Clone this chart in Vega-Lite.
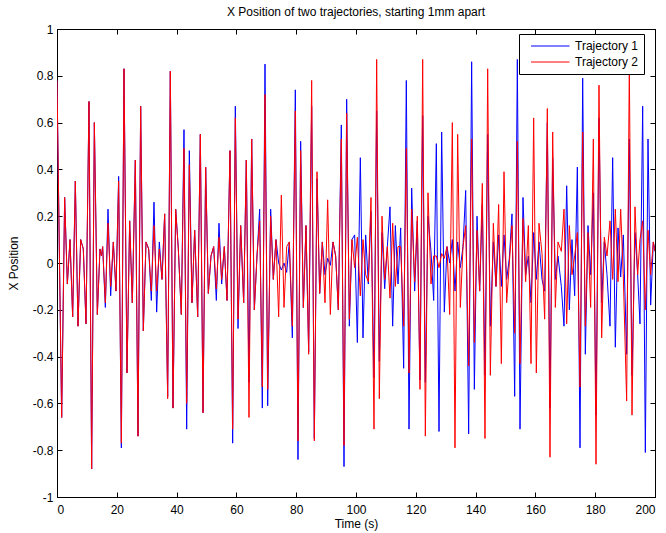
{
"$schema": "https://vega.github.io/schema/vega-lite/v6.json",
"width": 598, "height": 468,
"autosize": {"type": "none"},
"padding": {"left": 57, "top": 29, "right": 11, "bottom": 36},
"background": "white",
"config": {
  "font": "Liberation Sans",
  "view": {"stroke": "black", "strokeWidth": 1},
  "axis": {"grid": false, "domainColor": "black", "tickColor": "black", "labelColor": "black", "titleColor": "black", "labelFontSize": 12, "titleFontSize": 12, "titleFontWeight": "normal", "tickSize": -5}
},
"title": {"text": "X Position of two trajectories, starting 1mm apart", "fontSize": 12, "fontWeight": "normal", "color": "black", "offset": 4},
"data": {"values": [
{"t":0,"traj1":0.78,"traj2":0.78},{"t":1.56,"traj1":-0.66,"traj2":-0.66},{"t":2.56,"traj1":0.28,"traj2":0.28},{"t":3.46,"traj1":-0.09,"traj2":-0.09},{"t":4.35,"traj1":0.1,"traj2":0.1},{"t":5.24,"traj1":-0.23,"traj2":-0.23},{"t":6.13,"traj1":0.35,"traj2":0.35},{"t":7.02,"traj1":-0.27,"traj2":-0.27},{"t":7.92,"traj1":0.1,"traj2":0.1},{"t":8.8,"traj1":0.06,"traj2":0.06},{"t":9.7,"traj1":-0.26,"traj2":-0.26},{"t":10.7,"traj1":0.69,"traj2":0.69},{"t":11.59,"traj1":-0.88,"traj2":-0.88},{"t":12.49,"traj1":0.6,"traj2":0.6},{"t":13.49,"traj1":-0.22,"traj2":-0.22},{"t":14.38,"traj1":0.06,"traj2":0.06},{"t":14.85,"traj1":0.03,"traj2":0.03},{"t":15.27,"traj1":0.07,"traj2":0.07},{"t":16.17,"traj1":-0.19,"traj2":-0.17},{"t":17.06,"traj1":0.23,"traj2":0.17},{"t":17.95,"traj1":-0.14,"traj2":-0.1},{"t":18.84,"traj1":0.09,"traj2":0.09},{"t":19.73,"traj1":-0.12,"traj2":-0.12},{"t":20.62,"traj1":0.37,"traj2":0.35},{"t":21.52,"traj1":-0.79,"traj2":-0.77},{"t":22.41,"traj1":0.83,"traj2":0.83},{"t":23.41,"traj1":-0.47,"traj2":-0.47},{"t":24.3,"traj1":0.18,"traj2":0.18},{"t":25.19,"traj1":-0.17,"traj2":-0.17},{"t":26.2,"traj1":0.44,"traj2":0.44},{"t":27.09,"traj1":-0.74,"traj2":-0.74},{"t":27.98,"traj1":0.67,"traj2":0.67},{"t":28.87,"traj1":-0.29,"traj2":-0.29},{"t":29.77,"traj1":0.09,"traj2":0.09},{"t":30.66,"traj1":0.06,"traj2":0.06},{"t":31.55,"traj1":-0.16,"traj2":-0.12},{"t":32.44,"traj1":0.26,"traj2":0.16},{"t":33.33,"traj1":-0.21,"traj2":-0.12},{"t":34.22,"traj1":0.09,"traj2":0.06},{"t":35.12,"traj1":-0.07,"traj2":-0.07},{"t":36.01,"traj1":0.21,"traj2":0.21},{"t":37.01,"traj1":-0.57,"traj2":-0.58},{"t":37.9,"traj1":0.82,"traj2":0.82},{"t":38.8,"traj1":-0.62,"traj2":-0.62},{"t":39.69,"traj1":0.23,"traj2":0.23},{"t":40.58,"traj1":0.06,"traj2":0.06},{"t":41.58,"traj1":-0.22,"traj2":-0.22},{"t":42.47,"traj1":0.57,"traj2":0.49},{"t":43.37,"traj1":-0.71,"traj2":-0.6},{"t":44.26,"traj1":0.48,"traj2":0.42},{"t":45.15,"traj1":-0.17,"traj2":-0.17},{"t":46.04,"traj1":0.14,"traj2":0.14},{"t":47.05,"traj1":-0.23,"traj2":-0.23},{"t":47.94,"traj1":0.55,"traj2":0.55},{"t":48.83,"traj1":-0.64,"traj2":-0.64},{"t":49.72,"traj1":0.41,"traj2":0.41},{"t":50.61,"traj1":-0.13,"traj2":-0.13},{"t":51.51,"traj1":0.03,"traj2":0.03},{"t":52.4,"traj1":0.07,"traj2":0.07},{"t":53.29,"traj1":-0.16,"traj2":-0.11},{"t":54.18,"traj1":0.17,"traj2":0.11},{"t":55.07,"traj1":-0.09,"traj2":-0.07},{"t":55.96,"traj1":0.07,"traj2":0.07},{"t":56.86,"traj1":-0.16,"traj2":-0.16},{"t":57.86,"traj1":0.48,"traj2":0.48},{"t":58.75,"traj1":-0.77,"traj2":-0.71},{"t":59.64,"traj1":0.67,"traj2":0.62},{"t":60.54,"traj1":-0.28,"traj2":-0.24},{"t":61.43,"traj1":0.16,"traj2":0.16},{"t":62.43,"traj1":-0.17,"traj2":-0.17},{"t":63.32,"traj1":0.44,"traj2":0.44},{"t":64.21,"traj1":-0.51,"traj2":-0.66},{"t":65.11,"traj1":0.53,"traj2":0.53},{"t":66.0,"traj1":-0.2,"traj2":-0.2},{"t":66.89,"traj1":0.03,"traj2":0.03},{"t":67.78,"traj1":0.23,"traj2":0.18},{"t":68.67,"traj1":-0.62,"traj2":-0.53},{"t":69.57,"traj1":0.85,"traj2":0.72},{"t":70.46,"traj1":-0.61,"traj2":-0.54},{"t":71.46,"traj1":0.23,"traj2":0.2},{"t":72.35,"traj1":-0.07,"traj2":-0.07},{"t":73.24,"traj1":0.1,"traj2":0.1},{"t":74.14,"traj1":0.0,"traj2":-0.23},{"t":75.03,"traj1":-0.03,"traj2":0.29},{"t":75.92,"traj1":0.0,"traj2":-0.19},{"t":76.81,"traj1":-0.04,"traj2":0.07},{"t":77.7,"traj1":0.09,"traj2":0.09},{"t":78.71,"traj1":-0.32,"traj2":-0.27},{"t":79.71,"traj1":0.74,"traj2":0.65},{"t":80.6,"traj1":-0.84,"traj2":-0.76},{"t":81.49,"traj1":0.52,"traj2":0.48},{"t":82.39,"traj1":-0.19,"traj2":-0.19},{"t":83.28,"traj1":0.16,"traj2":0.16},{"t":84.17,"traj1":-0.38,"traj2":-0.39},{"t":85.17,"traj1":0.67,"traj2":0.78},{"t":86.06,"traj1":-0.75,"traj2":-0.76},{"t":86.96,"traj1":0.36,"traj2":0.39},{"t":87.85,"traj1":-0.13,"traj2":-0.13},{"t":88.74,"traj1":0.09,"traj2":0.09},{"t":89.63,"traj1":-0.05,"traj2":-0.17},{"t":90.52,"traj1":0.02,"traj2":0.27},{"t":91.42,"traj1":-0.01,"traj2":-0.22},{"t":92.31,"traj1":0.09,"traj2":0.09},{"t":93.2,"traj1":0.03,"traj2":0.03},{"t":94.09,"traj1":-0.2,"traj2":-0.2},{"t":95.09,"traj1":0.59,"traj2":0.53},{"t":95.99,"traj1":-0.87,"traj2":-0.78},{"t":96.88,"traj1":0.7,"traj2":0.64},{"t":97.77,"traj1":-0.27,"traj2":-0.24},{"t":98.66,"traj1":0.1,"traj2":0.1},{"t":99.55,"traj1":0.12,"traj2":-0.02},{"t":100.45,"traj1":-0.34,"traj2":0.11},{"t":101.45,"traj1":0.45,"traj2":-0.14},{"t":102.34,"traj1":-0.32,"traj2":0.1},{"t":103.23,"traj1":0.12,"traj2":-0.05},{"t":104.12,"traj1":-0.09,"traj2":-0.08},{"t":105.02,"traj1":0.22,"traj2":0.28},{"t":106.02,"traj1":-0.49,"traj2":-0.71},{"t":106.91,"traj1":0.65,"traj2":0.87},{"t":107.8,"traj1":-0.42,"traj2":-0.58},{"t":108.7,"traj1":0.13,"traj2":0.2},{"t":109.59,"traj1":-0.11,"traj2":-0.07},{"t":110.48,"traj1":0.07,"traj2":0.07},{"t":111.37,"traj1":0.24,"traj2":-0.15},{"t":112.26,"traj1":-0.27,"traj2":0.17},{"t":113.16,"traj1":0.16,"traj2":-0.1},{"t":114.05,"traj1":-0.09,"traj2":0.07},{"t":114.94,"traj1":0.15,"traj2":0.07},{"t":115.94,"traj1":-0.45,"traj2":-0.27},{"t":116.83,"traj1":0.78,"traj2":0.49},{"t":117.73,"traj1":-0.71,"traj2":-0.47},{"t":118.62,"traj1":0.32,"traj2":0.23},{"t":119.62,"traj1":-0.12,"traj2":-0.08},{"t":120.51,"traj1":0.18,"traj2":0.2},{"t":121.4,"traj1":-0.5,"traj2":-0.54},{"t":122.3,"traj1":0.63,"traj2":0.87},{"t":123.19,"traj1":-0.51,"traj2":-0.74},{"t":124.08,"traj1":0.2,"traj2":0.3},{"t":125.08,"traj1":0.05,"traj2":-0.09},{"t":125.98,"traj1":-0.16,"traj2":0.03},{"t":126.87,"traj1":0.51,"traj2":0.03},{"t":127.76,"traj1":-0.72,"traj2":-0.02},{"t":128.65,"traj1":0.56,"traj2":0.04},{"t":129.54,"traj1":-0.21,"traj2":0.02},{"t":130.43,"traj1":0.07,"traj2":0.07},{"t":131.33,"traj1":0.0,"traj2":-0.22},{"t":132.22,"traj1":0.1,"traj2":0.6},{"t":133.11,"traj1":-0.12,"traj2":-0.79},{"t":134.0,"traj1":0.09,"traj2":0.55},{"t":134.89,"traj1":-0.02,"traj2":-0.19},{"t":135.79,"traj1":0.07,"traj2":0.07},{"t":136.68,"traj1":0.31,"traj2":0.16},{"t":137.68,"traj1":-0.73,"traj2":-0.44},{"t":138.68,"traj1":0.86,"traj2":0.53},{"t":139.58,"traj1":-0.54,"traj2":-0.34},{"t":140.47,"traj1":0.2,"traj2":0.14},{"t":141.36,"traj1":-0.12,"traj2":-0.12},{"t":142.25,"traj1":0.25,"traj2":0.34},{"t":143.14,"traj1":-0.48,"traj2":-0.75},{"t":144.04,"traj1":0.55,"traj2":0.83},{"t":144.93,"traj1":-0.27,"traj2":-0.48},{"t":145.93,"traj1":0.09,"traj2":0.17},{"t":146.82,"traj1":-0.1,"traj2":-0.1},{"t":147.71,"traj1":0.12,"traj2":0.25},{"t":148.61,"traj1":-0.1,"traj2":-0.43},{"t":149.5,"traj1":0.12,"traj2":0.39},{"t":150.39,"traj1":-0.07,"traj2":-0.17},{"t":151.28,"traj1":0.02,"traj2":0.0},{"t":152.17,"traj1":0.21,"traj2":0.16},{"t":153.07,"traj1":-0.57,"traj2":-0.3},{"t":153.96,"traj1":0.87,"traj2":0.52},{"t":154.85,"traj1":-0.71,"traj2":-0.43},{"t":155.85,"traj1":0.28,"traj2":0.19},{"t":156.74,"traj1":-0.05,"traj2":-0.08},{"t":157.64,"traj1":0.03,"traj2":0.16},{"t":158.53,"traj1":-0.17,"traj2":-0.43},{"t":159.42,"traj1":0.13,"traj2":0.62},{"t":160.31,"traj1":-0.07,"traj2":-0.47},{"t":161.2,"traj1":0.09,"traj2":0.17},{"t":162.21,"traj1":-0.07,"traj2":0.04},{"t":163.1,"traj1":-0.12,"traj2":-0.24},{"t":163.99,"traj1":0.6,"traj2":0.66},{"t":164.88,"traj1":-0.62,"traj2":-0.83},{"t":165.78,"traj1":0.45,"traj2":0.56},{"t":166.67,"traj1":-0.07,"traj2":-0.19},{"t":167.56,"traj1":0.03,"traj2":0.09},{"t":168.67,"traj1":-0.1,"traj2":0.05},{"t":169.57,"traj1":-0.27,"traj2":0.23},{"t":170.46,"traj1":0.33,"traj2":-0.26},{"t":171.35,"traj1":-0.2,"traj2":0.16},{"t":172.24,"traj1":0.1,"traj2":-0.05},{"t":173.13,"traj1":-0.14,"traj2":0.03},{"t":174.03,"traj1":0.41,"traj2":0.13},{"t":174.92,"traj1":-0.79,"traj2":-0.53},{"t":175.81,"traj1":0.79,"traj2":0.56},{"t":176.7,"traj1":-0.39,"traj2":-0.27},{"t":177.59,"traj1":0.16,"traj2":0.13},{"t":178.48,"traj1":-0.05,"traj2":-0.19},{"t":179.38,"traj1":0.3,"traj2":0.53},{"t":180.27,"traj1":-0.65,"traj2":-0.86},{"t":181.27,"traj1":0.62,"traj2":0.76},{"t":182.16,"traj1":-0.17,"traj2":-0.32},{"t":183.05,"traj1":0.09,"traj2":0.11},{"t":183.95,"traj1":-0.05,"traj2":0.03},{"t":184.95,"traj1":-0.27,"traj2":0.18},{"t":185.84,"traj1":0.45,"traj2":-0.07},{"t":186.73,"traj1":-0.36,"traj2":0.23},{"t":187.63,"traj1":0.15,"traj2":-0.08},{"t":188.52,"traj1":-0.06,"traj2":0.23},{"t":189.41,"traj1":0.12,"traj2":-0.06},{"t":190.52,"traj1":-0.39,"traj2":-0.59},{"t":191.41,"traj1":0.53,"traj2":0.85},{"t":192.31,"traj1":-0.48,"traj2":-0.65},{"t":193.31,"traj1":0.13,"traj2":0.24},{"t":194.2,"traj1":-0.05,"traj2":-0.05},{"t":194.98,"traj1":-0.26,"traj2":0.1},{"t":195.88,"traj1":0.67,"traj2":0.18},{"t":196.77,"traj1":-0.81,"traj2":-0.2},{"t":197.66,"traj1":0.53,"traj2":0.14},{"t":198.55,"traj1":-0.18,"traj2":-0.05},{"t":199.44,"traj1":0.09,"traj2":0.09},{"t":200,"traj1":0.05,"traj2":0.05}
]},
"transform": [{"fold": ["traj1", "traj2"], "as": ["series", "v"]}],
"layer": [
  {
    "mark": {"type": "line", "strokeWidth": 1, "clip": true},
    "encoding": {
      "x": {"field": "t", "type": "quantitative", "scale": {"domain": [0, 200], "nice": false, "zero": false},
            "axis": {"orient": "bottom", "values": [0,20,40,60,80,100,120,140,160,180,200], "title": "Time (s)", "labelPadding": 12, "titlePadding": 3}},
      "y": {"field": "v", "type": "quantitative", "scale": {"domain": [-1, 1], "nice": false},
            "axis": {"orient": "left", "values": [-1,-0.8,-0.6,-0.4,-0.2,0,0.2,0.4,0.6,0.8,1], "format": "~g", "labelExpr": "replace(datum.label, '\u2212', '-')", "title": "X Position", "labelPadding": 9, "titlePadding": 12}},
      "color": {"field": "series", "type": "nominal", "scale": {"domain": ["traj1", "traj2"], "range": ["#0000ff", "#ff0000"]},
        "legend": {"orient": "none", "legendX": 462, "legendY": 5, "title": null, "strokeColor": "black", "fillColor": "white", "padding": 6, "symbolType": "M0,0L7,0", "symbolSize": 121, "symbolStrokeWidth": 1, "labelOffset": 38, "labelFontSize": 12, "labelColor": "black", "rowPadding": 4, "cornerRadius": 0, "labelExpr": "datum.label == 'traj1' ? 'Trajectory 1' : 'Trajectory 2'"}}
    }
  },
  {
    "mark": {"type": "point", "opacity": 0},
    "encoding": {
      "x": {"field": "t", "type": "quantitative", "scale": {"domain": [0, 200], "nice": false, "zero": false},
            "axis": {"orient": "top", "values": [0,20,40,60,80,100,120,140,160,180,200], "labels": false, "title": null}},
      "y": {"field": "v", "type": "quantitative", "scale": {"domain": [-1, 1], "nice": false},
            "axis": {"orient": "right", "values": [-1,-0.8,-0.6,-0.4,-0.2,0,0.2,0.4,0.6,0.8,1], "labels": false, "title": null}}
    }
  }
],
"resolve": {"scale": {"x": "independent", "y": "independent"}, "axis": {"x": "independent", "y": "independent"}}
}
